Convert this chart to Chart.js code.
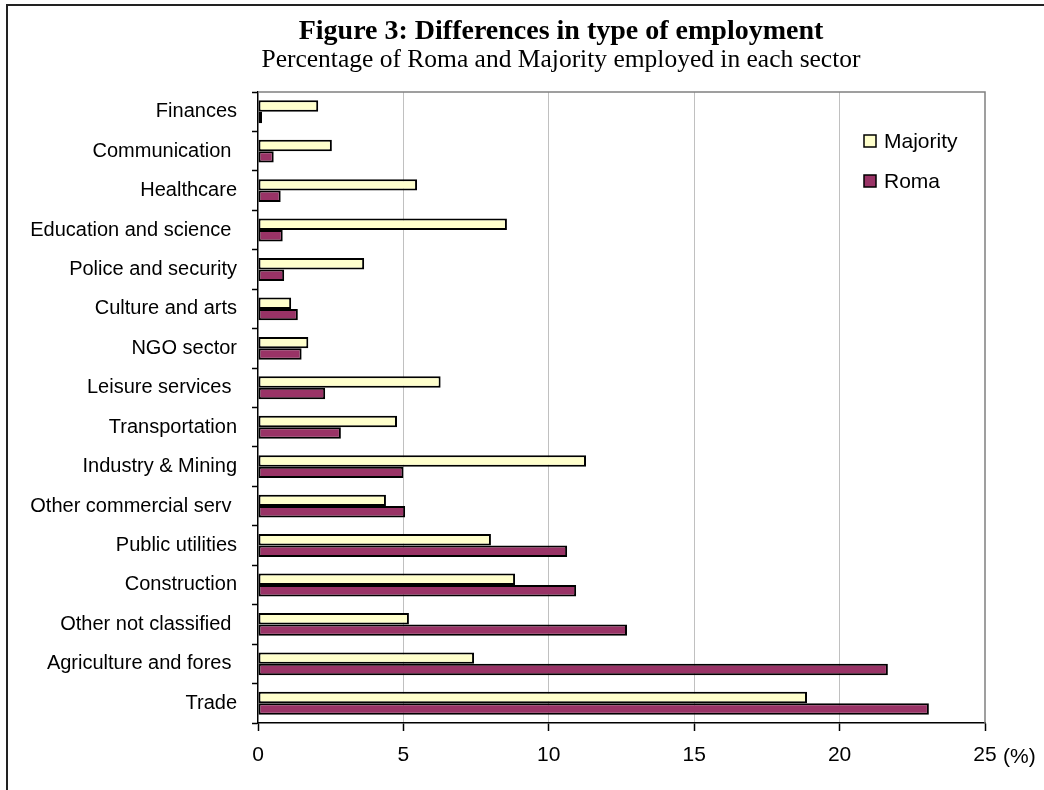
<!DOCTYPE html>
<html>
<head>
<meta charset="utf-8">
<script src="https://cdn.jsdelivr.net/npm/chart.js@4.4.1/dist/chart.umd.min.js"></script>
<style>
  html, body { margin: 0; padding: 0; background: #ffffff; }
  #wrap { width: 1044px; height: 790px; position: relative; }
</style>
</head>
<body>
<div id="wrap"><canvas id="c" width="1044" height="790"></canvas></div>
<script>
// Sectors, listed top to bottom
const sectors = [
  'Finances', 'Communication ', 'Healthcare', 'Education and science ',
  'Police and security', 'Culture and arts', 'NGO sector', 'Leisure services ',
  'Transportation', 'Industry & Mining', 'Other commercial serv ', 'Public utilities',
  'Construction', 'Other not classified ', 'Agriculture and fores ', 'Trade'
];

// Share of each group employed in the sector (%)
const majorityShare = [2.07, 2.54, 5.47, 8.56, 3.65, 1.14, 1.73, 6.28, 4.78, 11.28, 4.40, 8.01, 8.84, 5.19, 7.43, 18.88];
const romaShare     = [0.14, 0.54, 0.78, 0.85, 0.90, 1.37, 1.50, 2.31, 2.85, 5.00, 5.06, 10.63, 10.94, 12.69, 21.66, 23.07];

const xTicks = [0, 5, 10, 15, 20, 25];
const seriesNames = ['Majority', 'Roma'];
const unitLabel = '(%)';

const SANS = "Arial, 'Liberation Sans', sans-serif";
const NARROW = "'Liberation Sans Narrow', 'Arial Narrow', Arial, sans-serif";
const SERIF = "'Times New Roman', 'Liberation Serif', serif";

// Outer frame (top and left edges) and white background
const framePlugin = {
  id: 'frame',
  beforeDraw(chart) {
    const ctx = chart.ctx;
    ctx.save();
    ctx.fillStyle = '#ffffff';
    ctx.fillRect(0, 0, chart.width, chart.height);
    ctx.strokeStyle = '#222222';
    ctx.lineWidth = 2;
    ctx.beginPath();
    ctx.moveTo(chart.width, 5);
    ctx.lineTo(7, 5);
    ctx.lineTo(7, chart.height);
    ctx.stroke();
    ctx.restore();
  }
};

// Plot-area border on top and right, unit label after the last tick, legend inside plot
const extrasPlugin = {
  id: 'extras',
  beforeDatasetsDraw(chart) {
    const { ctx, chartArea: a } = chart;
    ctx.save();
    ctx.strokeStyle = '#808080';
    ctx.lineWidth = 1.5;
    ctx.beginPath();
    ctx.moveTo(a.left, a.top);
    ctx.lineTo(a.right, a.top);
    ctx.lineTo(a.right, a.bottom);
    ctx.stroke();
    ctx.restore();
  },
  afterDraw(chart) {
    const { ctx } = chart;
    const xs = chart.scales.x;
    ctx.save();
    // unit label next to the final tick value
    ctx.font = '21px ' + NARROW;
    ctx.fillStyle = '#000';
    ctx.textAlign = 'left';
    ctx.textBaseline = 'middle';
    ctx.fillText(unitLabel, xs.getPixelForValue(xTicks[xTicks.length - 1]) + 18, 757);

    // legend
    const lx = 864, ly = 141, gap = 40, box = 12;
    ctx.font = '21px ' + SANS;
    chart.data.datasets.forEach((ds, i) => {
      const y = ly + i * gap;
      ctx.fillStyle = ds.backgroundColor;
      ctx.fillRect(lx, y - box / 2, box, box);
      ctx.strokeStyle = '#000';
      ctx.lineWidth = 1.5;
      ctx.strokeRect(lx, y - box / 2, box, box);
      ctx.fillStyle = '#000';
      ctx.textAlign = 'left';
      ctx.textBaseline = 'middle';
      ctx.fillText(ds.label, lx + 20, y + 1);
    });
    ctx.restore();
  }
};

new Chart(document.getElementById('c'), {
  type: 'bar',
  data: {
    labels: sectors,
    datasets: [
      {
        label: seriesNames[0],
        data: majorityShare,
        backgroundColor: '#FFFFCC',
        borderColor: '#000000',
        borderWidth: 2,
        borderSkipped: false,
        categoryPercentage: 0.58,
        barPercentage: 1.0
      },
      {
        label: seriesNames[1],
        data: romaShare,
        backgroundColor: '#993366',
        borderColor: '#000000',
        borderWidth: 2,
        borderSkipped: false,
        categoryPercentage: 0.58,
        barPercentage: 1.0
      }
    ]
  },
  options: {
    indexAxis: 'y',
    responsive: false,
    animation: false,
    devicePixelRatio: 1,
    layout: { padding: { left: 78, right: 0, top: 0, bottom: 0 } },
    plugins: {
      legend: { display: false },
      tooltip: { enabled: false },
      title: {
        display: true,
        text: 'Figure 3: Differences in type of employment',
        color: '#000',
        font: { family: SERIF, size: 28, weight: 'bold', lineHeight: 1.0 },
        padding: { top: 18, bottom: 2 }
      },
      subtitle: {
        display: true,
        text: 'Percentage of Roma and Majority employed in each sector',
        color: '#000',
        font: { family: SERIF, size: 25.5, weight: 'normal', lineHeight: 1.0 },
        padding: { top: 0, bottom: 18.5 }
      }
    },
    scales: {
      x: {
        type: 'linear',
        min: 0,
        max: 25,
        afterBuildTicks(scale) {
          scale.ticks = xTicks.map(v => ({ value: v }));
        },
        afterFit(scale) {
          scale.height = 67;
          scale.paddingRight = 59;
        },
        grid: {
          color: (c) => (c.tick && (c.tick.value === 0 || c.tick.value === 25)) ? 'rgba(0,0,0,0)' : '#c0c0c0',
          lineWidth: 1,
          tickColor: '#000',
          tickLength: 8,
          tickWidth: 1.5
        },
        border: { display: true, color: '#000', width: 1.5 },
        ticks: {
          color: '#000',
          font: { family: NARROW, size: 21 },
          padding: 12,
          maxRotation: 0
        }
      },
      y: {
        type: 'category',
        afterFit(scale) {
          scale.width = 180;
          // sector names may run past the left edge of the axis box
          scale._computeLabelArea = () => undefined;
        },
        grid: {
          drawOnChartArea: false,
          offset: true,
          tickColor: '#000',
          tickLength: 6,
          tickWidth: 1.5
        },
        border: { display: true, color: '#000', width: 1.5 },
        ticks: {
          color: '#000',
          font: { family: SANS, size: 20 },
          padding: 15,
          autoSkip: false
        }
      }
    }
  },
  plugins: [framePlugin, extrasPlugin]
});
</script>
</body>
</html>
